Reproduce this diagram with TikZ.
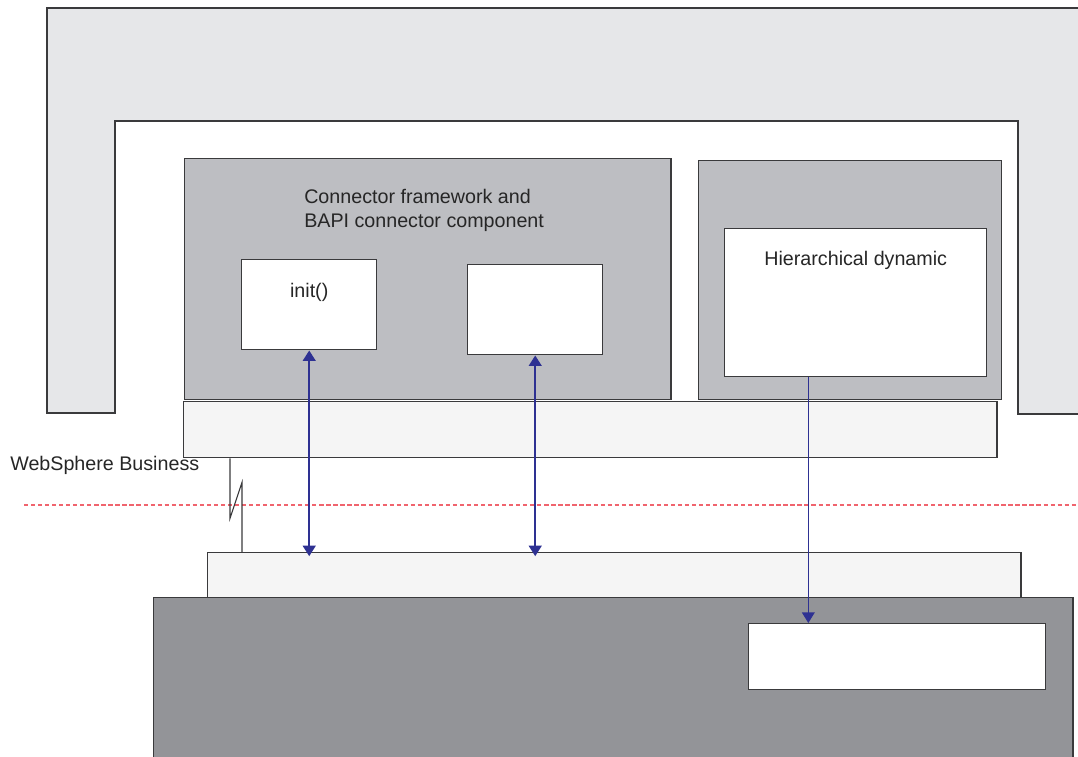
\documentclass[tikz,border=0pt]{standalone}
\usepackage{fontspec}
\setmainfont{Liberation Sans}
\usetikzlibrary{arrows.meta,positioning,calc}

\definecolor{shellgray}{HTML}{E6E7E9}
\definecolor{compgray}{HTML}{BDBEC2}
\definecolor{bargray}{HTML}{F5F5F5}
\definecolor{basegray}{HTML}{939498}
\definecolor{edgegray}{HTML}{3A3A3C}
\definecolor{callblue}{HTML}{2E3192}
\definecolor{splitred}{HTML}{F0646E}

\begin{document}
\begin{tikzpicture}[x=0.025cm,y=-0.025cm]
    \tikzstyle{every node}+=[inner sep=0pt, font=\fontsize{14}{17}\selectfont, text=black!85]
    \tikzstyle{box}=[draw=edgegray, line width=1pt, anchor=north west]
    \tikzstyle{call}=[draw=callblue, line width=1.7pt, {Triangle[length=7.5pt,width=9pt]}-{Triangle[length=7.5pt,width=9pt]}, shorten >=-3pt]
    \useasboundingbox (0,0) rectangle (1078,756);
    \clip (0,0) rectangle (1078,756);
    % outer shell
    \filldraw [fill=shellgray, draw=edgegray, line width=1pt] (47,413) -- (47,8) -- (1090,8) -- (1090,414) -- (1018,414) -- (1018,121) -- (115,121) -- (115,413) -- cycle;
    % components
    \node [box, fill=compgray, minimum width=12.15cm, minimum height=6.025cm] (fw) at (184,158) {};
    \node [anchor=north west, align=left] (fwtext) at (304,189) {Connector framework and\\BAPI connector component};
    \node [box, fill=white, minimum width=3.375cm, minimum height=2.25cm] (init) at (241,259) {};
    \node [below=17pt of init.north] (inittext) {init()};
    \node [box, fill=white, minimum width=3.375cm, minimum height=2.25cm] (meth) at (467,264) {};
    \node [box, fill=compgray, minimum width=7.575cm, minimum height=5.975cm] (bo) at (698,160) {};
    \node [box, fill=white, minimum width=6.55cm, minimum height=3.7cm] (hier) at (724,228) {};
    \node [below=16pt of hier.north] (hiertext) {Hierarchical dynamic};
    \node [box, fill=bargray, minimum width=20.325cm, minimum height=1.4cm] (bar1) at (183,401) {};
    \node [anchor=west] (wbi) at (10,465) {WebSphere Business};
    % lower side
    \node [box, fill=bargray, minimum width=20.325cm, minimum height=1.125cm] (bar2) at (207,552) {};
    \node [box, fill=basegray, minimum width=22.975cm, minimum height=4.5cm] (base) at (153,597) {};
    \node [box, fill=white, minimum width=7.425cm, minimum height=1.65cm] (app) at (748,623) {};
    % split line
    \draw [splitred, line width=1pt, dash pattern=on 3pt off 2pt] (24,505) -- (1078,505);
    % broken link
    \coordinate (brk) at ($(bar1.south west)+(47,0)$);
    \draw [edgegray, line width=0.8pt] (brk) -- ++(0,60) -- ++(12,-36) -- ($(brk |- bar2.north)+(12,0)$);
    % calls
    \draw [call] (init.south) -- (init.south |- bar2.north);
    \draw [call] (meth.south) -- (meth.south |- bar2.north);
    \coordinate (tap) at ($(hier.south west)!0.32!(hier.south east)$);
    \draw [draw=callblue, line width=0.9pt, -{Triangle[length=7.5pt,width=9pt]}] (tap) -- (tap |- app.north);
\end{tikzpicture}
\end{document}
